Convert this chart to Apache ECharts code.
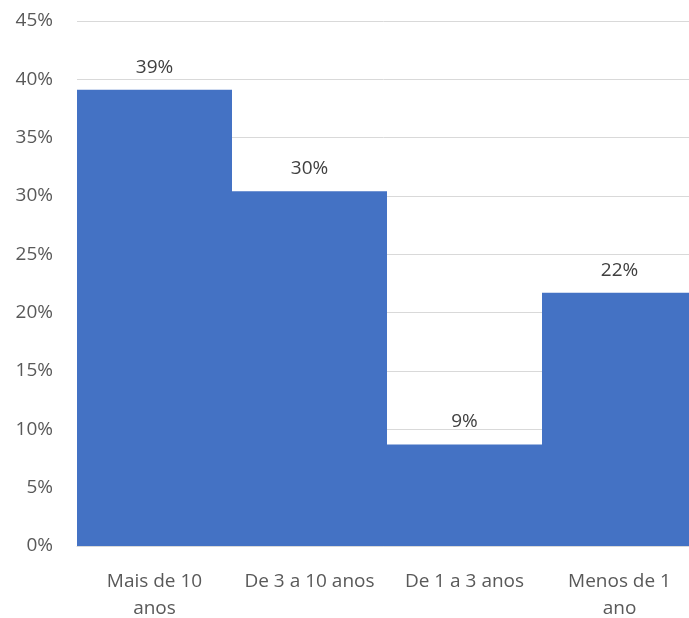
<!DOCTYPE html>
<html><head><meta charset="utf-8">
<script src="https://cdn.jsdelivr.net/npm/echarts@6/dist/echarts.min.js"></script>
<style>html,body{margin:0;padding:0;background:#fff;overflow:hidden}#c{width:689px;height:618px}</style>
</head><body><div id="c"></div>
<script>
const categories = ['Mais de 10\nanos', 'De 3 a 10 anos', 'De 1 a 3 anos', 'Menos de 1\nano'];
const values = [39.1, 30.4, 8.7, 21.7];
const yTicks = [0, 5, 10, 15, 20, 25, 30, 35, 40, 45];

const chart = echarts.init(document.getElementById('c'), null, {renderer: 'canvas'});
const font = '"Open Sans", "Liberation Sans", Arial, sans-serif';
chart.setOption({
  animation: false,
  grid: {left: 77, width: 620, top: 21, height: 525, containLabel: false, outerBoundsMode: 'none'},
  xAxis: {
    type: 'category', data: categories,
    axisLine: {lineStyle: {color: '#d9d9d9', width: 1}},
    axisTick: {show: false},
    axisLabel: {color: '#595959', fontSize: 19, fontFamily: font, margin: 22, lineHeight: 27, interval: 0}
  },
  yAxis: {
    type: 'value', min: yTicks[0], max: yTicks[yTicks.length - 1], interval: 5,
    axisLine: {show: false}, axisTick: {show: false},
    splitLine: {lineStyle: {color: '#d9d9d9', width: 1}},
    axisLabel: {color: '#595959', fontSize: 19, fontFamily: font, margin: 24, formatter: v => v + '%'}
  },
  series: [{
    type: 'bar', data: values, barWidth: '100%', barCategoryGap: 0,
    itemStyle: {color: '#4472c4'},
    label: {show: true, position: 'top', distance: 13, color: '#404040', fontSize: 19, fontFamily: font,
      formatter: p => Math.round(p.value) + '%'}
  }]
});
</script></body></html>
